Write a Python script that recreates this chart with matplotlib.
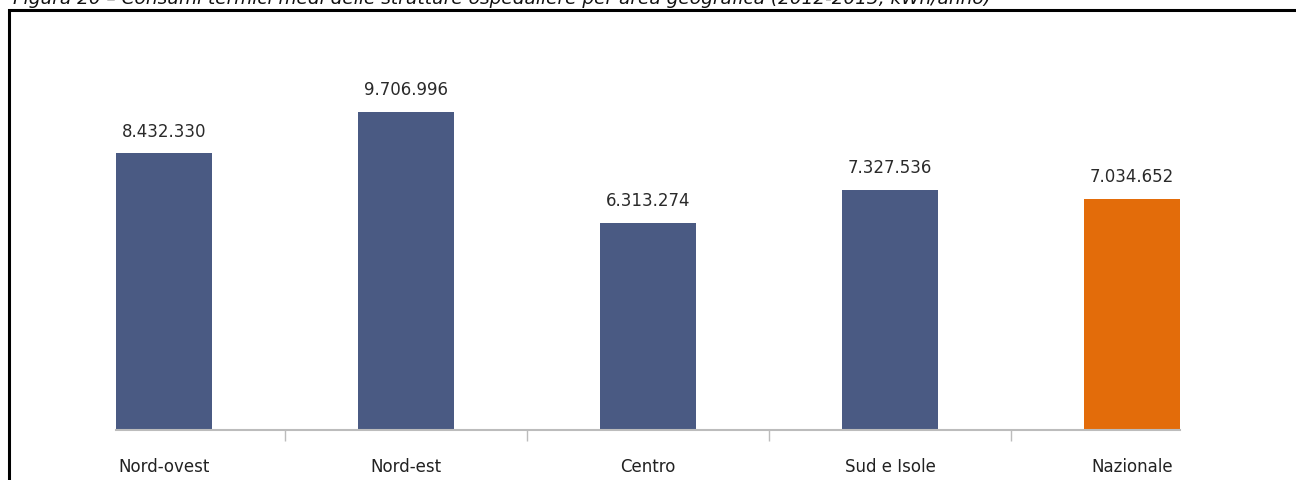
import matplotlib.pyplot as plt
from matplotlib.patches import Rectangle

# data
aree = ['Nord-ovest', 'Nord-est', 'Centro', 'Sud e Isole', 'Nazionale']
consumi = [8432330, 9706996, 6313274, 7327536, 7034652]
colori = ['#4a5a83', '#4a5a83', '#4a5a83', '#4a5a83', '#e36c0a']
etichette = ['8.432.330', '9.706.996', '6.313.274', '7.327.536', '7.034.652']

W, H = 1296, 481
fig = plt.figure(figsize=(W / 100, H / 100), dpi=100)

# title, cut at the top as in the scan
fig.text(13 / W, 1 - 4 / H,
         'Figura 20 \u2013 Consumi termici medi delle strutture ospedaliere '
         'per area geografica (2012-2013, kWh/anno)',
         fontsize=13.3, style='italic', color='#111111', va='baseline', ha='left')

# black frame
fig.patches.append(Rectangle((9 / W, -0.2), 1.2, 1.2 - 11 / H,
                             transform=fig.transFigure, fill=False,
                             edgecolor='black', linewidth=2.2))

bw = 0.395
ax = fig.add_axes([116 / W, 1 - 431 / H, (1180 - 116) / W, (431 - 60) / H])
x = list(range(len(aree)))
ax.bar(x, consumi, width=bw, color=colori, zorder=2)
ax.set_xlim(-bw / 2, len(aree) - 1 + bw / 2)
ax.set_ylim(0, 11.31e6)

for xi, v, t in zip(x, consumi, etichette):
    ax.annotate(t, (xi, v), xytext=(0, 10), textcoords='offset points',
                ha='center', va='bottom', fontsize=12, color='#2a2a2a')

for s in ['top', 'right', 'left']:
    ax.spines[s].set_visible(False)
ax.spines['bottom'].set_color('#bcbcbc')
ax.spines['bottom'].set_linewidth(1.5)
ax.set_yticks([])
ax.set_xticks([i + 0.5 for i in range(len(aree) - 1)])
ax.set_xticklabels([])
ax.tick_params(axis='x', length=8, width=1, color='#bcbcbc', direction='out')

for xi, a in zip(x, aree):
    ax.text(xi, -27 / 371, a, transform=ax.get_xaxis_transform(), ha='center', va='top',
            fontsize=12, color='#222222')

fig.savefig('out.png', dpi=100)
